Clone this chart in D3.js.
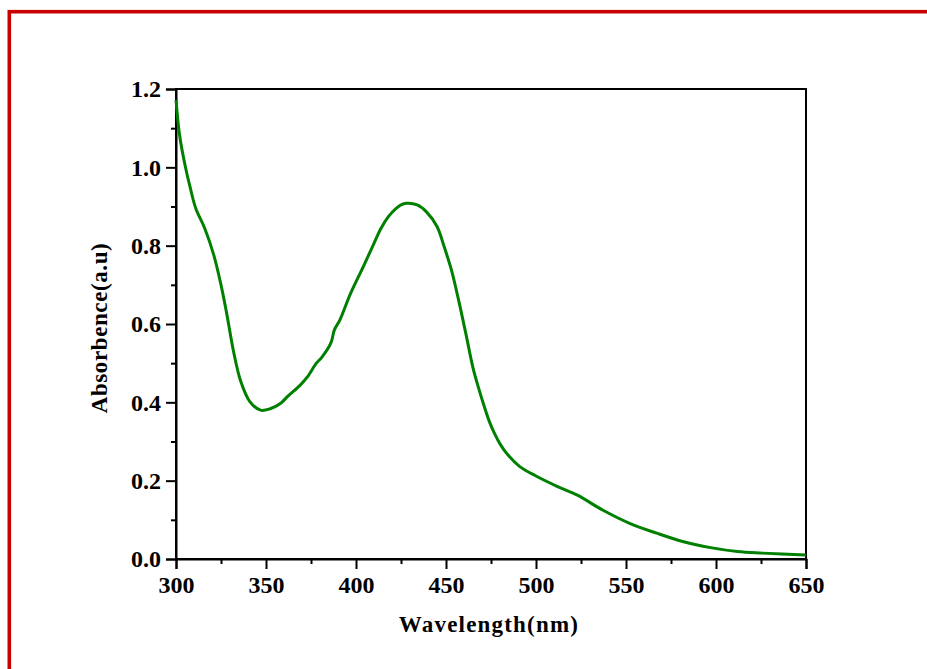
<!DOCTYPE html>
<html>
<head>
<meta charset="utf-8">
<script src="https://cdn.jsdelivr.net/npm/d3@7"></script>
<style>
  html, body { margin: 0; padding: 0; background: #fff; }
  svg { display: block; }
  text { font-family: "Liberation Serif", "Times New Roman", serif; font-weight: bold; fill: #000; }
</style>
</head>
<body>
<svg id="chart" width="927" height="669"></svg>
<script>
// UV-Vis absorption spectrum
const wavelength = [300, 302, 305, 308, 311, 316, 321, 325, 328, 332, 336, 341, 347, 352, 358, 362, 369, 373, 378, 381, 386, 388, 391, 397, 404, 410, 414, 418, 422, 425, 428, 434, 439, 445, 449, 453, 457, 461, 465, 468, 471, 474, 477, 480, 484, 491, 500, 512, 523, 537, 552, 567, 582, 597, 612, 626, 650];
const absorbance = [1.172, 1.082, 1.006, 0.946, 0.895, 0.844, 0.776, 0.700, 0.631, 0.529, 0.453, 0.402, 0.380, 0.383, 0.397, 0.415, 0.444, 0.465, 0.500, 0.515, 0.551, 0.585, 0.610, 0.678, 0.746, 0.806, 0.845, 0.874, 0.894, 0.904, 0.908, 0.904, 0.887, 0.849, 0.797, 0.738, 0.661, 0.576, 0.488, 0.438, 0.393, 0.352, 0.320, 0.294, 0.268, 0.236, 0.212, 0.185, 0.163, 0.125, 0.091, 0.066, 0.044, 0.029, 0.019, 0.015, 0.010];

const xTicks = [300, 350, 400, 450, 500, 550, 600, 650];
const xMinorTicks = [325, 375, 425, 475, 525, 575, 625];
const yTicks = [0.0, 0.2, 0.4, 0.6, 0.8, 1.0, 1.2];
const yMinorTicks = [0.1, 0.3, 0.5, 0.7, 0.9, 1.1];

const xTitle = "Wavelength(nm)";
const yTitle = "Absorbence(a.u)";

const svg = d3.select("#chart");
const plot = { left: 176, right: 806, top: 89, bottom: 559 };

// outer red frame
svg.append("rect")
  .attr("x", 9.3).attr("y", 11.7)
  .attr("width", 1000).attr("height", 1000)
  .attr("fill", "none")
  .attr("stroke", "#c80000")
  .attr("stroke-width", 3.6);

const x = d3.scaleLinear().domain([300, 650]).range([plot.left, plot.right]);
const y = d3.scaleLinear().domain([0, 1.2]).range([plot.bottom, plot.top]);

// frame of the plotting area
svg.append("rect")
  .attr("x", plot.left).attr("y", plot.top)
  .attr("width", plot.right - plot.left).attr("height", plot.bottom - plot.top)
  .attr("fill", "none").attr("stroke", "#000").attr("stroke-width", 2);

// major axes
svg.append("g")
  .attr("transform", `translate(0,${plot.bottom})`)
  .call(d3.axisBottom(x).tickValues(xTicks).tickSize(10).tickPadding(7).tickFormat(d3.format("d")));
svg.append("g")
  .attr("transform", `translate(${plot.left},0)`)
  .call(d3.axisLeft(y).tickValues(yTicks).tickSize(10).tickPadding(5).tickFormat(d3.format(".1f")));

// minor ticks
svg.append("g")
  .attr("transform", `translate(0,${plot.bottom})`)
  .call(d3.axisBottom(x).tickValues(xMinorTicks).tickSize(5).tickFormat(""))
  .call(g => g.select(".domain").remove());
svg.append("g")
  .attr("transform", `translate(${plot.left},0)`)
  .call(d3.axisLeft(y).tickValues(yMinorTicks).tickSize(5).tickFormat(""))
  .call(g => g.select(".domain").remove());

svg.selectAll(".domain").attr("stroke-width", 2);
svg.selectAll(".tick line").attr("stroke-width", 2);
svg.selectAll(".tick text")
  .style("font-family", '"Liberation Serif", "Times New Roman", serif')
  .style("font-weight", "bold")
  .style("font-size", "24px")
  .attr("fill", "#000");

// spectrum curve
const line = d3.line()
  .x((d, i) => x(wavelength[i]))
  .y(d => y(d))
  .curve(d3.curveCatmullRom.alpha(0.5));

svg.append("path")
  .datum(absorbance)
  .attr("d", line)
  .attr("fill", "none")
  .attr("stroke", "#008000")
  .attr("stroke-width", 3)
  .attr("stroke-linejoin", "round");

// axis titles
svg.append("text")
  .attr("x", (plot.left + plot.right) / 2 - 2)
  .attr("y", 632)
  .attr("text-anchor", "middle")
  .style("font-size", "23px")
  .style("letter-spacing", "1.2px")
  .text(xTitle);

svg.append("text")
  .attr("transform", `translate(107,${(plot.top + plot.bottom) / 2 + 4}) rotate(-90)`)
  .attr("text-anchor", "middle")
  .style("font-size", "23px")
  .style("letter-spacing", "0.6px")
  .text(yTitle);
</script>
</body>
</html>
